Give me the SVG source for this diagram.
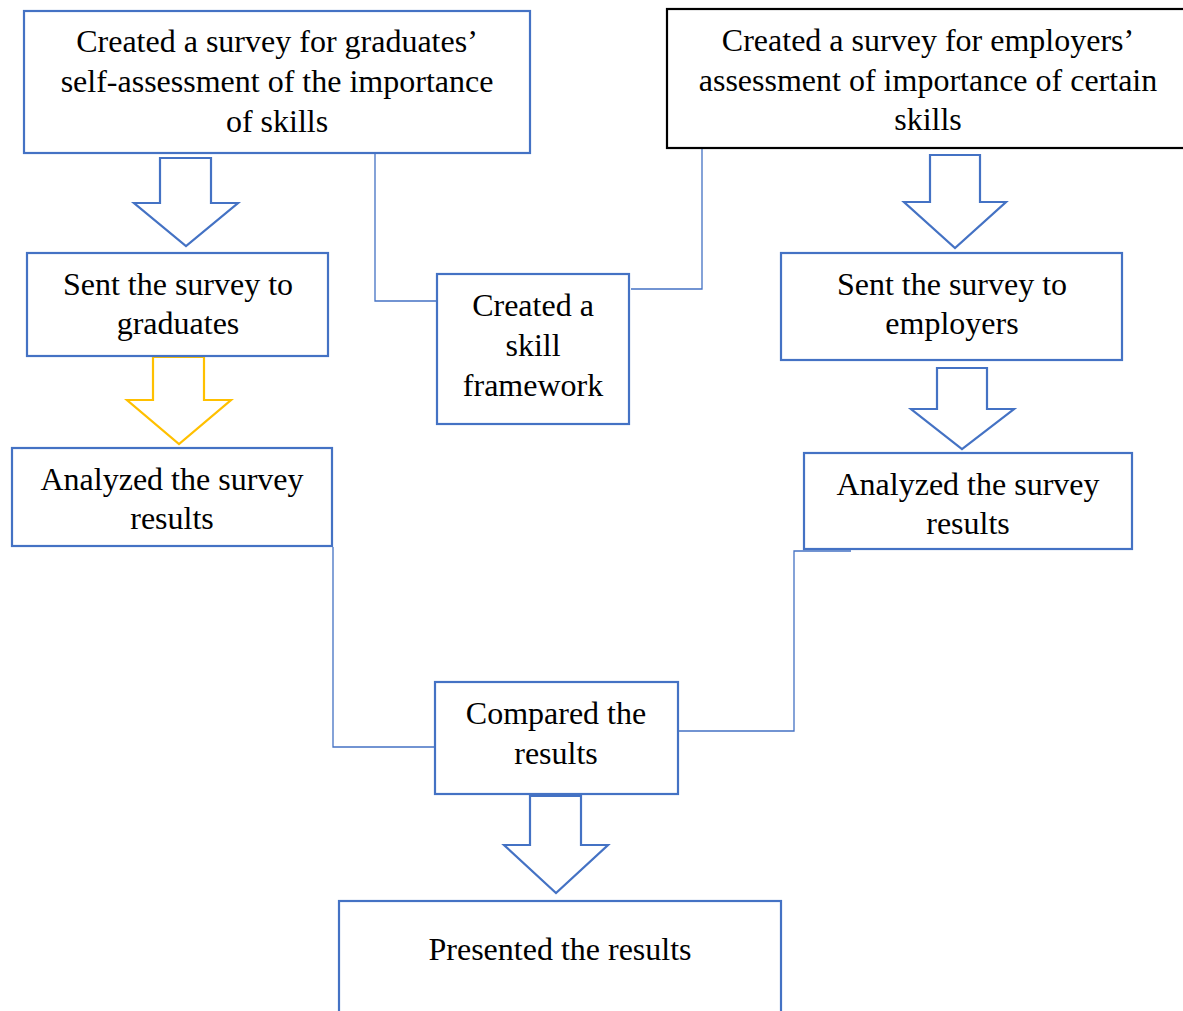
<svg xmlns="http://www.w3.org/2000/svg" width="1183" height="1011" viewBox="0 0 1183 1011">
<style>
.box{fill:#fff;stroke:#4472C4;stroke-width:2.2}
.bbox{fill:#fff;stroke:#000;stroke-width:2.2}
.arr{fill:#fff;stroke:#4472C4;stroke-width:2.2;stroke-linejoin:miter}
.yarr{fill:#fff;stroke:#FFC000;stroke-width:2.2}
.con{fill:none;stroke:#4472C4;stroke-width:1.3}
text{font-family:"Liberation Serif","Times New Roman",serif;font-size:32px;fill:#000;text-anchor:middle}
</style>
<rect width="1183" height="1011" fill="#fff"/>
<g id="connectors">
<polyline class="con" points="375,154 375,301 437,301"/>
<polyline class="con" points="702,149 702,289 631,289"/>
<polyline class="con" points="333,547 333,747 435,747"/>
<polyline class="con" points="851,551 794,551 794,731 679,731"/>
</g>
<g id="arrows">
<polygon class="arr" points="160,158 211,158 211,203 238,203 186,246 134,203 160,203"/>
<polygon class="yarr" points="153,357 204,357 204,400 231,400 179,444 127,400 153,400"/>
<polygon class="arr" points="930,155 980,155 980,202 1006,202 955,248 904,202 930,202"/>
<polygon class="arr" points="937,368 987,368 987,409 1014,409 962,449 911,409 937,409"/>
<polygon class="arr" points="530,796 581,796 581,845 608,845 556,893 504,845 530,845"/>
</g>
<g id="n1">
<rect class="box" x="24" y="11" width="506" height="142"/>
<text x="277" y="52">Created a survey for graduates’</text>
<text x="277" y="92">self-assessment of the importance</text>
<text x="277" y="132">of skills</text>
</g>
<g id="n2">
<rect class="bbox" x="667" y="9" width="520" height="139"/>
<text x="928" y="51">Created a survey for employers’</text>
<text x="928" y="91">assessment of importance of certain</text>
<text x="928" y="130">skills</text>
</g>
<g id="n3">
<rect class="box" x="27" y="253" width="301" height="103"/>
<text x="178" y="295">Sent the survey to</text>
<text x="178" y="334">graduates</text>
</g>
<g id="n4">
<rect class="box" x="437" y="274" width="192" height="150"/>
<text x="533" y="316">Created a</text>
<text x="533" y="356">skill</text>
<text x="533" y="396">framework</text>
</g>
<g id="n5">
<rect class="box" x="781" y="253" width="341" height="107"/>
<text x="952" y="295">Sent the survey to</text>
<text x="952" y="334">employers</text>
</g>
<g id="n6">
<rect class="box" x="12" y="448" width="320" height="98"/>
<text x="172" y="490">Analyzed the survey</text>
<text x="172" y="529">results</text>
</g>
<g id="n7">
<rect class="box" x="804" y="453" width="328" height="96"/>
<text x="968" y="495">Analyzed the survey</text>
<text x="968" y="534">results</text>
</g>
<g id="n8">
<rect class="box" x="435" y="682" width="243" height="112"/>
<text x="556" y="724">Compared the</text>
<text x="556" y="764">results</text>
</g>
<g id="n9">
<rect class="box" x="339" y="901" width="442" height="120"/>
<text x="560" y="960">Presented the results</text>
</g>
</svg>
